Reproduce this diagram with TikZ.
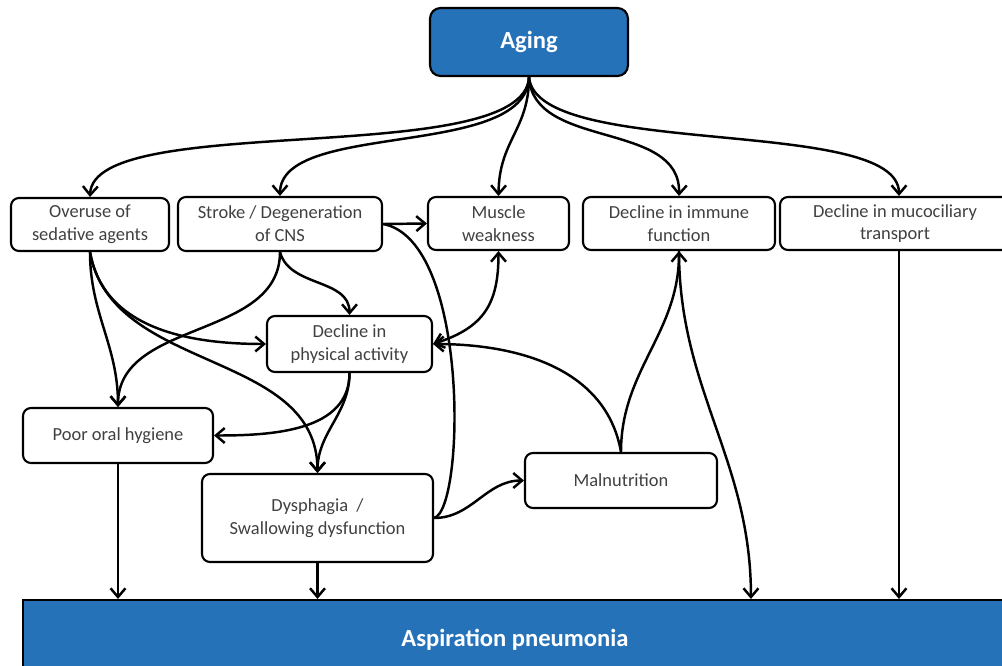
\documentclass[tikz,border=0pt]{standalone}
\usepackage{fontspec}
\setmainfont{Carlito}
\usetikzlibrary{arrows.meta}

\definecolor{agingblue}{RGB}{38,114,184}

\begin{document}
\begin{tikzpicture}[x=0.02cm,y=-0.02cm,
  >={Straight Barb[length=5pt,width=8.5pt]},
  box/.style={draw=black,line width=1.2pt,rounded corners=4.5pt,align=center,
    text=black!75,font=\fontsize{10.5}{13}\selectfont,inner sep=2pt},
  bluebox/.style={box,fill=agingblue,text=white,font=\fontsize{14}{17}\selectfont\bfseries},
  link/.style={line width=1.4pt},
  arr/.style={link,->}]
\useasboundingbox (0,0) rectangle (1002,666);

\node[bluebox,rounded corners=6pt,minimum width=3.96cm,minimum height=1.36cm] (aging) at (529,42) {Aging};
\node[box,minimum width=3.16cm,minimum height=1.06cm] (sedative) at (90,224.5) {Overuse of\\sedative agents};
\node[box,minimum width=4.08cm,minimum height=1.08cm] (stroke) at (280,224) {Stroke / Degeneration\\of CNS};
\node[box,minimum width=2.82cm,minimum height=1.06cm] (muscle) at (498.5,223.5) {Muscle\\weakness};
\node[box,minimum width=3.84cm,minimum height=1.06cm] (immune) at (679,223.5) {Decline in immune\\function};
\node[box,minimum width=4.6cm,minimum height=1.06cm] (mucus) at (895,223.5) {Decline in mucociliary\\transport};
\node[box,minimum width=3.3cm,minimum height=1.12cm] (activity) at (349.5,344) {Decline in\\physical activity};
\node[box,minimum width=3.8cm,minimum height=1.1cm] (hygiene) at (118,435.5) {Poor oral hygiene};
\node[box,minimum width=4.62cm,minimum height=1.76cm] (dysphagia) at (317.5,518) {Dysphagia~~/\\Swallowing dysfunction};
\node[box,minimum width=3.84cm,minimum height=1.1cm] (malnutrition) at (621,480.5) {Malnutrition};
\node[bluebox,rounded corners=0pt,minimum width=19.68cm,minimum height=1.6cm] (pneumonia) at (515,640) {Aspiration pneumonia};

% from aging
\draw[arr] (aging.south) .. controls (525,170) and (93,110) .. (sedative.north);
\draw[arr] (aging.south) .. controls (527,160) and (280,120) .. (stroke.north);
\draw[arr] (aging.south) .. controls (529,130) and (499,140) .. (muscle.north);
\draw[arr] (aging.south) .. controls (533,150) and (681,120) .. (immune.north);
\draw[arr] (aging.south) .. controls (536,160) and (899,115) .. ([xshift=0.08cm]mucus.north);

% second row
\draw[arr] (stroke.east) -- (muscle.west);
\draw[link] (stroke.east) .. controls (470,240) and (465,510) .. (dysphagia.east);
\draw[arr] (sedative.south) to[out=-90,in=90] (hygiene.north);
\draw[arr] (sedative.south) to[out=-80,in=180] (activity.west);
\draw[arr] (sedative.south) to[out=-80,in=90] (dysphagia.north);
\draw[arr] (stroke.south) to[out=-90,in=90] (hygiene.north);
\draw[arr] (stroke.south) to[out=-75,in=90] (activity.north);
\draw[<->,link] (muscle.south) to[out=-90,in=18,looseness=1.2] (activity.east);

% middle
\draw[arr] (activity.south) to[out=-90,in=0] (hygiene.east);
\draw[arr] (activity.south) to[out=-90,in=90] (dysphagia.north);
\draw[arr] (dysphagia.east) to[out=0,in=180] (malnutrition.west);
\draw[arr] (malnutrition.north) to[out=100,in=0] (activity.east);
\draw[arr] (malnutrition.north) to[out=90,in=-90] (immune.south);

% to pneumonia
\draw[arr] (hygiene.south) -- (hygiene.south |- pneumonia.north);
\draw[arr] (dysphagia.south) -- (dysphagia.south |- pneumonia.north);
\draw[arr] (immune.south) to[out=-90,in=90] ([xshift=4.72cm]pneumonia.north);
\draw[arr] ([xshift=0.08cm]mucus.south) -- ([xshift=0.08cm]mucus.south |- pneumonia.north);
\end{tikzpicture}
\end{document}
